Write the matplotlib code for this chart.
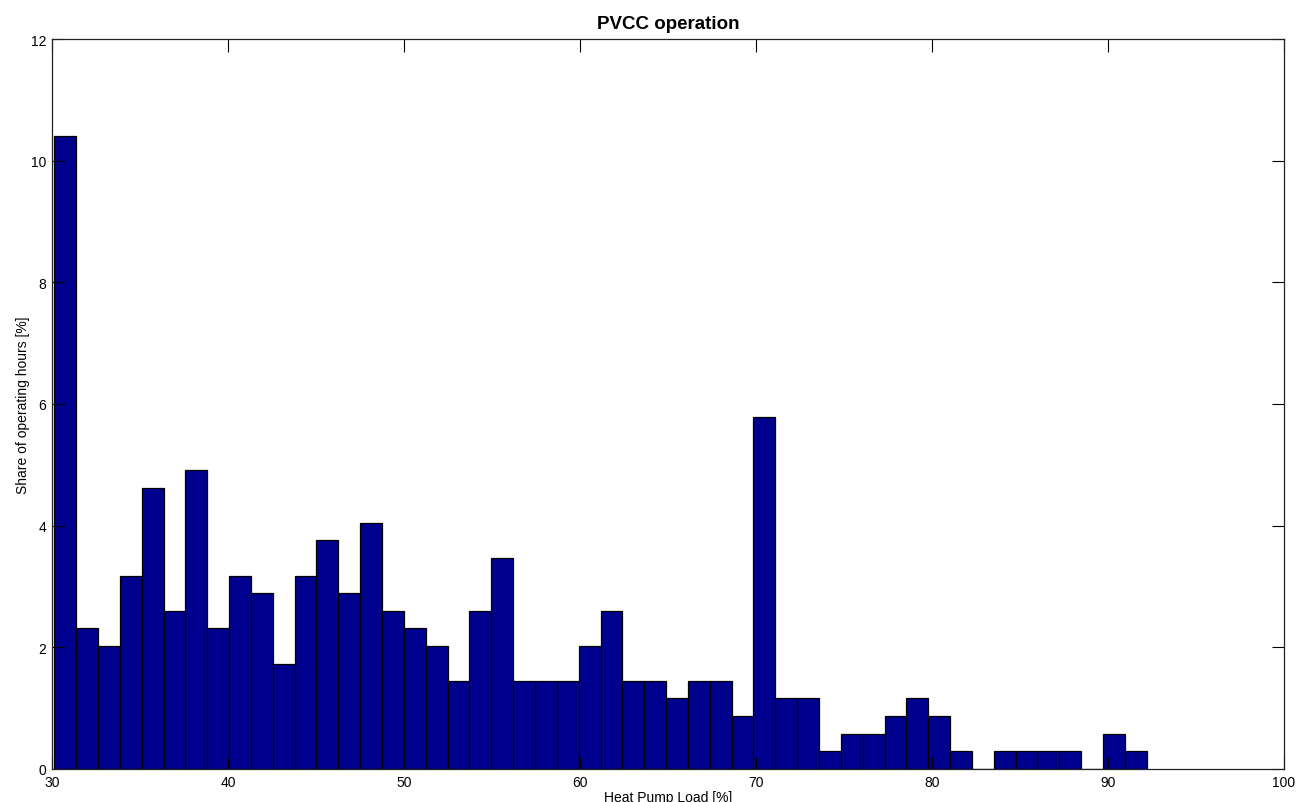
import numpy as np
import matplotlib
matplotlib.use("Agg")
import matplotlib.pyplot as plt

plt.rcParams['font.family'] = ['Liberation Sans', 'DejaVu Sans']

# Histogram data (share of operating hours per load bin)
bin_start = 30.13
bin_width = 1.2414
shares = [10.40, 2.31, 2.02, 3.18, 4.62, 2.60, 4.91, 2.31, 3.18, 2.89,
          1.73, 3.18, 3.76, 2.89, 4.05, 2.60, 2.31, 2.02, 1.45, 2.60,
          3.47, 1.45, 1.45, 1.45, 2.02, 2.60, 1.45, 1.45, 1.16, 1.45,
          1.45, 0.87, 5.78, 1.16, 1.16, 0.29, 0.58, 0.58, 0.87, 1.16,
          0.87, 0.29, 0.00, 0.29, 0.29, 0.29, 0.29, 0.00, 0.58, 0.29]
x_ticks = [30, 40, 50, 60, 70, 80, 90, 100]
y_ticks = [0, 2, 4, 6, 8, 10, 12]

fig = plt.figure(figsize=(13.09, 8.03), dpi=100)
ax = fig.add_axes([52/1309, 1-770/803, (1284-52)/1309, (770-40)/803])

lefts = bin_start + bin_width*np.arange(len(shares))
ax.bar(lefts, shares, width=bin_width, align='edge', color='#00008F',
       edgecolor='black', linewidth=0.9)

ax.set_xlim(30, 100)
ax.set_ylim(0, 12)
ax.set_xticks(x_ticks)
ax.set_yticks(y_ticks)
ax.tick_params(direction='in', length=9, width=0.8, top=True, right=True,
               labelsize=10, pad=4)
for s in ax.spines.values():
    s.set_linewidth(0.9)
    s.set_color('#222222')

ax.set_title('PVCC operation', fontsize=13.5, fontweight='bold', pad=8)
ax.set_xlabel('Heat Pump Load [%]', fontsize=10, labelpad=1)
ax.set_ylabel('Share of operating hours [%]', fontsize=10, labelpad=1)

fig.savefig('out.png', dpi=100)
